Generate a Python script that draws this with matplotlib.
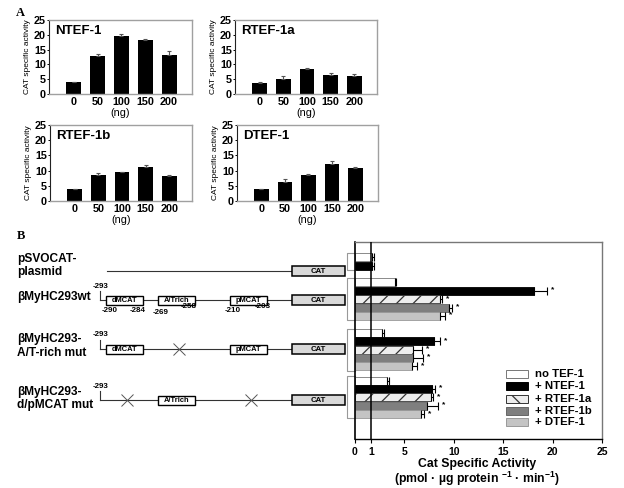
import numpy as np
import matplotlib
matplotlib.use('Agg')
import matplotlib.pyplot as plt
from matplotlib.patches import Rectangle

plt.rcParams['font.family'] = ['Liberation Sans', 'DejaVu Sans']
plt.rcParams['font.weight'] = 'bold'
plt.rcParams['mathtext.fontset'] = 'custom'
plt.rcParams['mathtext.rm'] = 'Liberation Sans:bold'
plt.rcParams['mathtext.bf'] = 'Liberation Sans:bold'
plt.rcParams['hatch.linewidth'] = 0.9

W, H = 624, 488

# ---- panel A data (CAT specific activity vs ng of expression vector)
doses = ['0', '50', '100', '150', '200']
ntef1 = [3.9, 12.7, 19.5, 18.3, 13.3]
ntef1_err = [0.2, 0.8, 0.7, 0.4, 1.3]
rtef1a = [3.7, 5.2, 8.4, 6.4, 6.1]
rtef1a_err = [0.5, 0.9, 0.3, 0.8, 0.8]
rtef1b = [3.8, 8.4, 9.4, 11.1, 8.1]
rtef1b_err = [0.3, 0.7, 0.3, 0.8, 0.6]
dtef1 = [3.8, 6.3, 8.4, 12.2, 10.8]
dtef1_err = [0.3, 0.9, 0.6, 1.0, 0.5]

# ---- panel B data
constructs = ['pSVOCAT-\nplasmid', 'βMyHC293wt', 'βMyHC293-\nA/T-rich mut', 'βMyHC293-\nd/pMCAT mut']
conditions = ['no TEF-1', '+ NTEF-1', '+ RTEF-1a', '+ RTEF-1b', '+ DTEF-1']
activity = [
    [1.75, 1.75],
    [4.05, 18.1, 8.6, 9.5, 8.6],
    [2.7, 8.0, 5.9, 5.85, 5.75],
    [3.2, 7.75, 7.7, 7.3, 6.7],
]
activity_err = [
    [0.15, 0.2],
    [0.1, 1.3, 0.2, 0.3, 0.5],
    [0.2, 0.65, 0.9, 1.05, 0.55],
    [0.25, 0.35, 0.2, 1.1, 0.27],
]
xticks_b = ['0', '1', '5', '10', '15', '20', '25']
xtick_pos_b = [0, 1.6, 5, 10, 15, 20, 25]   # "1" sits off-scale in the original
site_labels = ['-290', '-284', '-269', '-258', '-210', '-203']


def px(l, t, r, b):
    return [l / W, 1 - b / H, (r - l) / W, (b - t) / H]


fig = plt.figure(figsize=(W / 100, H / 100), dpi=100)

# ---------- schematic of the constructs (pixel coordinates)
axd = fig.add_axes([0, 0, 1, 1])
axd.set_xlim(0, W)
axd.set_ylim(H, 0)
axd.axis('off')

row_y = [271, 300, 349, 400]
label_y = [265.5, 297, 346, 398.5]
line_start = [107, 100, 100, 100]
elem_x = {'dMCAT': (106, 143), 'A/Trich': (158, 195), 'pMCAT': (230, 267)}
row_elems = [[], ['dMCAT', 'A/Trich', 'pMCAT'], ['dMCAT', 'pMCAT'], ['A/Trich']]
row_mut = [[], [], ['A/Trich'], ['dMCAT', 'pMCAT']]
site_x = [110, 138, 161, 189, 233, 263]
site_dy = [10, 10, 12, 7, 11, 7]

for r, y in enumerate(row_y):
    axd.text(17, label_y[r], constructs[r], fontsize=8.6, va='center', ha='left',
             linespacing=1.15)
    axd.plot([line_start[r], 292], [y, y], color='#333333', lw=0.8)
    if r > 0:
        axd.plot([100, 100], [y - 9, y], color='#333333', lw=0.8)
        axd.text(101, y - 14, '-293', fontsize=5.8, ha='center', va='center')
    for name in row_elems[r]:
        x0, x1 = elem_x[name]
        axd.add_patch(Rectangle((x0, y - 4.5), x1 - x0, 9, facecolor='white',
                                edgecolor='black', lw=1.0, zorder=3))
        axd.text((x0 + x1) / 2, y + 0.3, name, fontsize=5.4, ha='center', va='center',
                 zorder=4)
    for name in row_mut[r]:
        x0, x1 = elem_x[name]
        axd.plot((x0 + x1) / 2 + 2, y, marker='x', ms=9, mew=0.7, color='#555555')
    axd.add_patch(Rectangle((292, y - 5), 53, 10, facecolor='#d9d9d9',
                            edgecolor='black', lw=1.1, zorder=3))
    axd.text(318.5, y + 0.3, 'CAT', fontsize=5.6, ha='center', va='center', zorder=4)

for lab, sx, dy in zip(site_labels, site_x, site_dy):
    axd.text(sx, row_y[1] + dy, lab, fontsize=5.8, ha='center', va='center')

axd.text(20, 13, 'A', fontsize=9, family='Liberation Serif', ha='center', va='center')
axd.text(21, 236, 'B', fontsize=9, family='Liberation Serif', ha='center', va='center')


# ---------- panel A
def dose_panel(rect, title, vals, errs):
    ax = fig.add_axes(px(*rect))
    x = np.arange(len(doses))
    ax.bar(x, vals, width=0.62, color='black',
           yerr=[np.zeros(len(errs)), errs],
           error_kw=dict(ecolor='#555555', elinewidth=0.8, capsize=1.5, capthick=0.8))
    ax.set_xlim(-1.04, 4.96)
    ax.set_ylim(0, 25)
    ax.set_yticks([0, 5, 10, 15, 20, 25])
    ax.set_xticks(x, doses)
    ax.tick_params(axis='x', length=0, labelsize=7.8, pad=2)
    ax.tick_params(axis='y', length=1.6, width=0.7, labelsize=7.8, pad=0.5)
    for s in ['top', 'right', 'bottom']:
        ax.spines[s].set_color('#a0a0a0')
        ax.spines[s].set_linewidth(1.0)
    ax.spines['left'].set_color('#222222')
    ax.spines['left'].set_linewidth(0.8)
    ax.set_xlabel('(ng)', fontsize=7.8, labelpad=1)
    ax.set_ylabel('CAT specific activity', fontsize=6, fontweight='normal', labelpad=2)
    ax.text(0.04, 0.93, title, transform=ax.transAxes, fontsize=9.5, va='top', ha='left')
    return ax


dose_panel((49, 20, 192, 94), 'NTEF-1', ntef1, ntef1_err)
dose_panel((235, 20, 377, 94), 'RTEF-1a', rtef1a, rtef1a_err)
dose_panel((50, 125, 192, 201), 'RTEF-1b', rtef1b, rtef1b_err)
dose_panel((237, 125, 378, 201), 'DTEF-1', dtef1, dtef1_err)

# ---------- panel B
axb = fig.add_axes(px(355, 242, 602, 439))
fills = ['white', 'black', '#ededed', '#7f7f7f', '#c4c4c4']
edges = ['#777777', 'black', '#333333', '#666666', '#999999']
hatches = [None, None, '//', None, None]
group_start = [1.8, 4.8, 10.8, 16.5]

for g, (vals, errs) in enumerate(zip(activity, activity_err)):
    for i, (v, e) in enumerate(zip(vals, errs)):
        y = group_start[g] + i
        axb.barh(y, v, height=0.95, color=fills[i], edgecolor=edges[i],
                 hatch=hatches[i], linewidth=0.6, zorder=2)
        axb.errorbar(v, y, xerr=[[0], [e]], fmt='none', ecolor='black',
                     elinewidth=0.8, capsize=2.8, capthick=0.8, zorder=3)
        if g > 0 and i > 0:
            axb.text(v + e + 0.4, y - 0.1, '*', fontsize=6, ha='left', va='center')
    top = group_start[g] - 0.5
    bot = group_start[g] + len(vals) - 0.5
    axb.plot([0, -0.8, -0.8, 0], [top, top, bot, bot], color='#999999', lw=0.8,
             clip_on=False)

axb.axvline(xtick_pos_b[1], color='black', lw=1.1, zorder=4)
axb.set_xlim(0, 25)
axb.set_ylim(23.45, 0)
axb.set_yticks([])
axb.set_xticks(xtick_pos_b, xticks_b)
axb.tick_params(axis='x', length=3, width=0.8, labelsize=7.5, pad=3)
axb.spines['left'].set_linewidth(1.2)
axb.spines['bottom'].set_linewidth(1.0)
for s in ['top', 'right']:
    axb.spines[s].set_color('#777777')
    axb.spines[s].set_linewidth(1.0)

# legend drawn by hand to match the spacing
leg_y = [374, 386, 398.5, 410.5, 422]
leg_hatch = [None, None, '\\\\', None, None]
for i, lab in enumerate(conditions):
    fy = (439 - leg_y[i]) / 197
    axb.add_patch(Rectangle(((506 - 355) / 247, fy - 4 / 197), 22 / 247, 8 / 197,
                            transform=axb.transAxes, facecolor=fills[i],
                            edgecolor=edges[i], hatch=leg_hatch[i], lw=0.7))
    axb.text((535 - 355) / 247, fy, lab, transform=axb.transAxes, fontsize=8.2,
             ha='left', va='center')

fig.text(477 / W, 1 - 463.5 / H, 'Cat Specific Activity', fontsize=8.8,
         ha='center', va='center')
fig.text(477 / W, 1 - 478.5 / H, r'(pmol · µg protein $^{-1}$ · min$^{-1}$)',
         fontsize=8.8, ha='center', va='center')

fig.savefig('out.png', dpi=100)
